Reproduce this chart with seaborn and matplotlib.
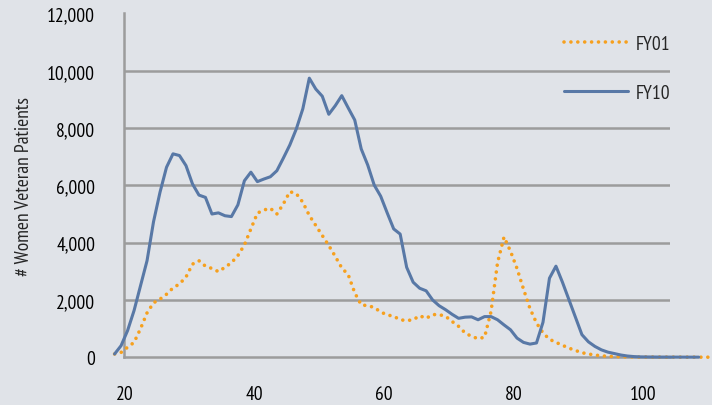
import matplotlib
matplotlib.use("Agg")
import matplotlib.pyplot as plt
import matplotlib.ticker as mticker
import seaborn as sns
import pandas as pd

# ages (one point per year of age)
AGES_FY01 = list(range(18, 111))
AGES_FY10 = list(range(18, 109))

FY01 = [115, 170, 350, 520, 1000, 1550, 1900, 2030, 2200, 2420,
        2560, 2800, 3250, 3370, 3180, 3100, 2990, 3140, 3300, 3550,
        3920, 4480, 5030, 5140, 5200, 5000, 5350, 5780, 5710, 5410,
        4950, 4600, 4250, 3900, 3520, 3120, 2880, 2250, 1830, 1800,
        1740, 1580, 1480, 1430, 1310, 1280, 1310, 1450, 1360, 1490,
        1490, 1430, 1250, 1080, 850, 730, 650, 700, 1600, 3300,
        4200, 3700, 3100, 2380, 1700, 1200, 850, 630, 520, 420,
        320, 240, 160, 115, 80, 50, 35, 25, 20, 15,
        12, 10, 10, 8, 8, 6, 6, 5, 5, 5,
        4, 4, 4]

FY10 = [115, 405, 930, 1630, 2500, 3370, 4730, 5760, 6630, 7100,
        7040, 6690, 6050, 5660, 5580, 5000, 5040, 4940, 4910, 5320,
        6160, 6460, 6130, 6220, 6300, 6510, 6950, 7410, 7970, 8670,
        9740, 9360, 9110, 8480, 8780, 9130, 8700, 8280, 7270, 6710,
        6010, 5620, 5040, 4480, 4300, 3140, 2620, 2410, 2320, 2000,
        1800, 1660, 1500, 1360, 1400, 1410, 1310, 1420, 1420, 1310,
        1130, 960, 670, 520, 460, 500, 1220, 2760, 3180, 2620,
        2010, 1400, 790, 540, 380, 260, 180, 130, 80, 45,
        25, 15, 12, 10, 8, 8, 6, 6, 5, 5,
        5]

X_TICKS = [20, 40, 60, 80, 100]
Y_TICKS = [0, 2000, 4000, 6000, 8000, 10000, 12000]

BG = "#e0e3e8"
GRID = "#9c9c9c"
ORANGE = "#f6a01e"
BLUE = "#5878a6"

sns.set_style("white", {"axes.facecolor": BG, "figure.facecolor": BG})
plt.rcParams["font.family"] = ["PT Sans Narrow", "Roboto Condensed", "DejaVu Sans"]

df01 = pd.DataFrame({"age": AGES_FY01, "patients": FY01})
df10 = pd.DataFrame({"age": AGES_FY10, "patients": FY10})
# points sit in the middle of each year's slot
df01["pos"] = df01["age"] + 0.5
df10["pos"] = df10["age"] + 0.5

fig = plt.figure(figsize=(7.12, 4.06), dpi=100)
ax = fig.add_axes([0.1746, 0.1175, 0.7665, 0.847])

sns.lineplot(data=df01, x="pos", y="patients", ax=ax, color=ORANGE,
             linewidth=2.6, linestyle=(0, (0.01, 1.9)), dash_capstyle="round",
             clip_on=False, label="FY01", zorder=3)
sns.lineplot(data=df10, x="pos", y="patients", ax=ax, color=BLUE,
             linewidth=2.2, clip_on=False, label="FY10", zorder=4)

ax.set_xlim(20, 104.08)
ax.set_ylim(0, 12000)
ax.set_xticks(X_TICKS)
ax.set_yticks(Y_TICKS)
ax.yaxis.set_major_formatter(mticker.FuncFormatter(lambda v, p: f"{int(v):,}"))

for y in Y_TICKS[1:-1]:
    ax.axhline(y, color=GRID, linewidth=1.8, zorder=1)

for side in ["top", "right"]:
    ax.spines[side].set_visible(False)
for side in ["left", "bottom"]:
    ax.spines[side].set_color(GRID)
    ax.spines[side].set_linewidth(1.8)

ax.tick_params(axis="y", length=0, pad=21, labelsize=14, colors="black")
ax.tick_params(axis="x", direction="inout", length=8, width=1.5, color=GRID,
               pad=16, labelsize=14, labelcolor="black")

ax.set_xlabel("")
ax.set_ylabel("# Women Veteran Patients", fontsize=14, labelpad=10)

leg = ax.legend(loc="upper left", bbox_to_anchor=(0.792, 0.912),
                bbox_transform=fig.transFigure, frameon=False, fontsize=14,
                handlelength=3.3, handletextpad=0.4, labelspacing=1.6,
                borderpad=0, borderaxespad=0)

fig.savefig("out.png", dpi=100, facecolor=BG)
